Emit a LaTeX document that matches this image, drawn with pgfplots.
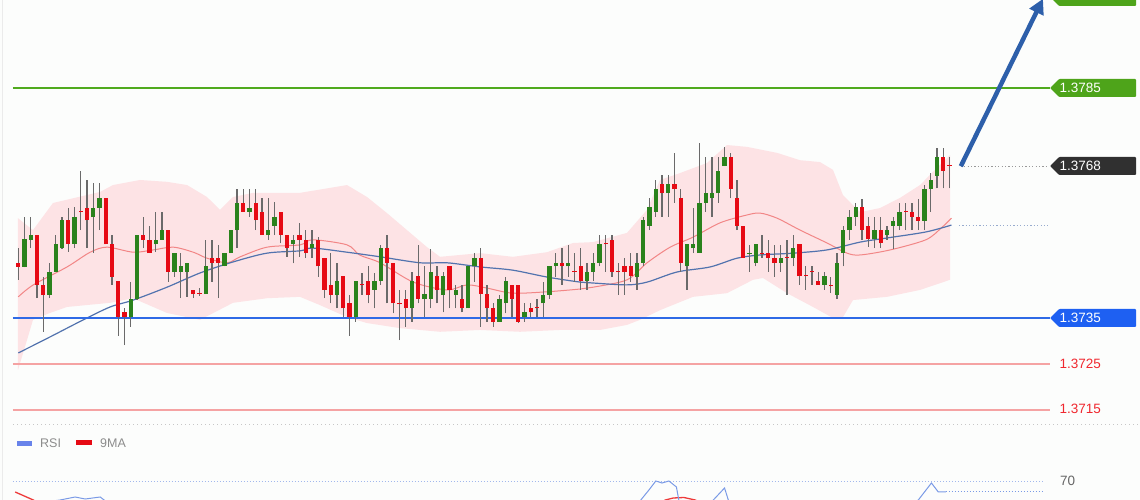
\documentclass[border=0pt]{standalone}
\usepackage{pgfplots}
\pgfplotsset{compat=1.18}
\usepackage{pgfplotstable}
\usepackage{fontspec}
\setmainfont{Liberation Sans}
\usetikzlibrary{arrows.meta}
\definecolor{bg}{HTML}{FCFDFC}
\definecolor{cgreen}{HTML}{2A821C}
\definecolor{cred}{HTML}{E60A14}
\definecolor{wick}{HTML}{6A6A6A}
\definecolor{band}{HTML}{FDE3E5}
\definecolor{maRed}{HTML}{F28686}
\definecolor{maBlue}{HTML}{5273AE}
\definecolor{lvlGreen}{HTML}{50AA1E}
\definecolor{boxGreen}{HTML}{4EA41A}
\definecolor{lvlBlue}{HTML}{2F6AE6}
\definecolor{boxBlue}{HTML}{1E60F2}
\definecolor{lvlRed}{HTML}{F5A3A3}
\definecolor{txtRed}{HTML}{F0282F}
\definecolor{boxDark}{HTML}{303030}
\definecolor{arrowBlue}{HTML}{2D5FAA}
\definecolor{rsiBlue}{HTML}{7A9AE6}
\definecolor{rsiRed}{HTML}{EE3A3A}
\definecolor{legGray}{HTML}{8C8C8C}

\pgfplotstableread{
i o h l c
1 1.37470 1.37502 1.37433 1.37461
2 1.37461 1.37570 1.37460 1.37521
3 1.37520 1.37570 1.37502 1.37530
4 1.37530 1.37530 1.37393 1.37422
5 1.37422 1.37440 1.37320 1.37400
6 1.37400 1.37469 1.37393 1.37451
7 1.37451 1.37530 1.37450 1.37510
8 1.37502 1.37570 1.37501 1.37562
9 1.37562 1.37589 1.37494 1.37511
10 1.37511 1.37591 1.37502 1.37570
11 1.37582 1.37670 1.37541 1.37580
12 1.37590 1.37650 1.37502 1.37562
13 1.37570 1.37643 1.37491 1.37590
14 1.37590 1.37643 1.37541 1.37610
15 1.37610 1.37610 1.37510 1.37510
16 1.37510 1.37530 1.37422 1.37440
17 1.37430 1.37430 1.37311 1.37352
18 1.37362 1.37371 1.37291 1.37353
19 1.37352 1.37429 1.37331 1.37391
20 1.37391 1.37530 1.37390 1.37530
21 1.37530 1.37570 1.37502 1.37520
22 1.37520 1.37549 1.37491 1.37491
23 1.37510 1.37581 1.37494 1.37520
24 1.37520 1.37581 1.37520 1.37541
25 1.37541 1.37541 1.37429 1.37451
26 1.37451 1.37491 1.37440 1.37491
27 1.37451 1.37491 1.37393 1.37462
28 1.37451 1.37470 1.37396 1.37470
29 1.37411 1.37411 1.37393 1.37402
30 1.37405 1.37415 1.37398 1.37403
31 1.37402 1.37520 1.37402 1.37462
32 1.37480 1.37520 1.37429 1.37470
33 1.37480 1.37509 1.37393 1.37470
34 1.37462 1.37491 1.37462 1.37491
35 1.37491 1.37541 1.37491 1.37541
36 1.37541 1.37630 1.37502 1.37601
37 1.37601 1.37630 1.37581 1.37581
38 1.37581 1.37630 1.37570 1.37590
39 1.37601 1.37630 1.37541 1.37562
40 1.37581 1.37610 1.37530 1.37530
41 1.37530 1.37610 1.37520 1.37541
42 1.37551 1.37603 1.37530 1.37570
43 1.37581 1.37581 1.37512 1.37530
44 1.37530 1.37530 1.37483 1.37502
45 1.37510 1.37530 1.37469 1.37520
46 1.37530 1.37556 1.37483 1.37520
47 1.37520 1.37541 1.37480 1.37491
48 1.37502 1.37541 1.37480 1.37510
49 1.37520 1.37527 1.37440 1.37462
50 1.37480 1.37480 1.37393 1.37411
51 1.37422 1.37491 1.37382 1.37400
52 1.37400 1.37469 1.37371 1.37430
53 1.37441 1.37441 1.37353 1.37371
54 1.37382 1.37400 1.37311 1.37353
55 1.37352 1.37430 1.37342 1.37430
56 1.37423 1.37447 1.37400 1.37421
57 1.37430 1.37462 1.37382 1.37400
58 1.37411 1.37447 1.37371 1.37430
59 1.37430 1.37509 1.37422 1.37502
60 1.37502 1.37530 1.37382 1.37470
61 1.37470 1.37470 1.37360 1.37382
62 1.37382 1.37411 1.37302 1.37380
63 1.37391 1.37411 1.37331 1.37371
64 1.37371 1.37451 1.37342 1.37430
65 1.37441 1.37509 1.37382 1.37391
66 1.37391 1.37462 1.37353 1.37402
67 1.37391 1.37499 1.37371 1.37451
68 1.37441 1.37462 1.37382 1.37411
69 1.37400 1.37451 1.37362 1.37441
70 1.37462 1.37462 1.37371 1.37411
71 1.37400 1.37422 1.37371 1.37411
72 1.37391 1.37422 1.37362 1.37371
73 1.37371 1.37462 1.37371 1.37462
74 1.37462 1.37491 1.37429 1.37480
75 1.37480 1.37502 1.37331 1.37402
76 1.37402 1.37422 1.37342 1.37371
77 1.37371 1.37382 1.37331 1.37342
78 1.37342 1.37400 1.37342 1.37391
79 1.37382 1.37440 1.37360 1.37430
80 1.37422 1.37422 1.37353 1.37391
81 1.37422 1.37422 1.37340 1.37342
82 1.37352 1.37382 1.37342 1.37362
83 1.37371 1.37382 1.37352 1.37362
84 1.37373 1.37391 1.37352 1.37371
85 1.37382 1.37429 1.37352 1.37400
86 1.37400 1.37462 1.37391 1.37462
87 1.37462 1.37491 1.37440 1.37470
88 1.37470 1.37502 1.37422 1.37462
89 1.37462 1.37509 1.37440 1.37470
90 1.37452 1.37491 1.37429 1.37450
91 1.37462 1.37502 1.37411 1.37430
92 1.37430 1.37469 1.37411 1.37451
93 1.37451 1.37491 1.37430 1.37470
94 1.37470 1.37530 1.37462 1.37510
95 1.37512 1.37530 1.37451 1.37510
96 1.37520 1.37530 1.37440 1.37451
97 1.37452 1.37469 1.37400 1.37450
98 1.37462 1.37480 1.37400 1.37451
99 1.37462 1.37491 1.37429 1.37441
100 1.37440 1.37491 1.37411 1.37470
101 1.37470 1.37570 1.37462 1.37562
102 1.37551 1.37610 1.37541 1.37591
103 1.37581 1.37650 1.37570 1.37630
104 1.37641 1.37661 1.37570 1.37621
105 1.37621 1.37661 1.37570 1.37641
106 1.37641 1.37709 1.37601 1.37630
107 1.37610 1.37630 1.37451 1.37470
108 1.37462 1.37510 1.37411 1.37510
109 1.37502 1.37590 1.37491 1.37510
110 1.37491 1.37730 1.37491 1.37601
111 1.37601 1.37699 1.37581 1.37621
112 1.37610 1.37699 1.37570 1.37621
113 1.37621 1.37699 1.37601 1.37670
114 1.37680 1.37721 1.37680 1.37699
115 1.37699 1.37709 1.37610 1.37630
116 1.37610 1.37650 1.37541 1.37551
117 1.37551 1.37551 1.37480 1.37481
118 1.37490 1.37509 1.37451 1.37492
119 1.37470 1.37510 1.37462 1.37510
120 1.37492 1.37530 1.37480 1.37490
121 1.37491 1.37520 1.37451 1.37480
122 1.37480 1.37509 1.37440 1.37470
123 1.37470 1.37509 1.37451 1.37480
124 1.37483 1.37520 1.37400 1.37481
125 1.37480 1.37530 1.37462 1.37502
126 1.37510 1.37510 1.37422 1.37441
127 1.37443 1.37462 1.37411 1.37441
128 1.37452 1.37462 1.37422 1.37450
129 1.37430 1.37451 1.37422 1.37422
130 1.37422 1.37451 1.37411 1.37441
131 1.37422 1.37440 1.37404 1.37420
132 1.37400 1.37491 1.37391 1.37470
133 1.37491 1.37551 1.37462 1.37541
134 1.37541 1.37585 1.37520 1.37570
135 1.37570 1.37601 1.37551 1.37591
136 1.37591 1.37608 1.37520 1.37541
137 1.37550 1.37570 1.37505 1.37521
138 1.37521 1.37570 1.37502 1.37541
139 1.37541 1.37570 1.37502 1.37512
140 1.37530 1.37550 1.37520 1.37541
141 1.37550 1.37570 1.37499 1.37561
142 1.37550 1.37599 1.37541 1.37581
143 1.37583 1.37599 1.37541 1.37581
144 1.37581 1.37599 1.37541 1.37570
145 1.37570 1.37608 1.37541 1.37561
146 1.37561 1.37639 1.37541 1.37630
147 1.37630 1.37665 1.37581 1.37650
148 1.37659 1.37720 1.37632 1.37701
149 1.37701 1.37720 1.37632 1.37670
150 1.37683 1.37701 1.37632 1.37681
}\candles

\begin{document}
\begin{tikzpicture}
\useasboundingbox (0,0) rectangle (1140pt,500pt);
\fill[bg] (0,0) rectangle (1140pt,500pt);

% ---------- price panel ----------
\begin{axis}[at={(0,0)}, anchor=south west, scale only axis,
  width=1140pt, height=500pt,
  xmin=-1.928, xmax=180.472, ymin=1.3695435, ymax=1.380413,
  hide axis, clip=true]

% Bollinger band
\addplot[fill=band, draw=none] coordinates {
(0.95,1.37567) (3.35,1.37541) (6.55,1.37600) (14.07,1.37624) (16.15,1.37639)
(20.47,1.37650) (24.79,1.37646) (28.0,1.37639) (31.19,1.37613) (33.27,1.37585)
(35.35,1.37613) (38.55,1.37622) (46.07,1.37622) (53.59,1.37639) (56.79,1.37613)
(59.99,1.37578) (63.19,1.37541) (66.39,1.37504) (68.47,1.37483) (74.87,1.37491)
(80.15,1.37483) (85.59,1.37493) (89.75,1.37513) (92.95,1.37515) (98.39,1.37535)
(101.59,1.37585) (103.67,1.37650) (106.87,1.37665) (111.19,1.37687) (114.39,1.37726)
(117.59,1.37722) (122.39,1.37709) (126.07,1.37693) (129.27,1.37689) (131.35,1.37672)
(132.95,1.37617) (135.67,1.37580) (138.87,1.37589) (142.07,1.37611) (145.27,1.37639)
(147.67,1.37672) (150.07,1.37704)
(150.07,1.37433) (145.27,1.37411) (139.99,1.37396) (134.55,1.37389) (132.95,1.37352)
(131.35,1.37350) (128.15,1.37374) (123.99,1.37404) (120.15,1.37437) (118.55,1.37433)
(114.39,1.37404) (108.95,1.37396) (103.67,1.37367) (100.47,1.37346) (98.39,1.37335)
(94.07,1.37324) (87.67,1.37324) (81.27,1.37320) (74.87,1.37324) (68.47,1.37320)
(62.07,1.37328) (56.79,1.37339) (53.59,1.37352) (49.27,1.37378) (46.07,1.37396)
(40.79,1.37393) (35.35,1.37383) (30.07,1.37346) (24.79,1.37361) (19.35,1.37393)
(15.67,1.37383) (8.79,1.37374) (6.07,1.37361) (3.35,1.37346) (2.39,1.37302)
(0.95,1.37237)
};

% moving averages
\addplot[draw=maRed, line width=1pt, smooth] coordinates {
(1,1.37396) (3.4,1.37422) (8.8,1.37461) (12.5,1.37493) (15.2,1.37504) (19.4,1.37493)
(22.6,1.37498) (25.8,1.37504) (29.0,1.37493) (31.2,1.37480) (34.4,1.37470) (36.5,1.37483)
(40.8,1.37504) (46.1,1.37509) (48.1,1.37520) (53.6,1.37509) (55.6,1.37487) (58.9,1.37470)
(64.2,1.37428) (69.6,1.37411) (72.8,1.37422) (76.0,1.37415) (80.1,1.37404) (85.6,1.37407)
(90.9,1.37413) (93.0,1.37417) (98.4,1.37433) (101.6,1.37470) (105.3,1.37504) (109.0,1.37526)
(113.3,1.37557) (117.6,1.37574) (119.7,1.37578) (122.4,1.37567) (126.1,1.37541) (130.4,1.37513)
(133.6,1.37491) (135.7,1.37487) (140.5,1.37498) (146.2,1.37520) (148.7,1.37546) (150.3,1.37567)
};
\addplot[draw=maBlue, line width=1.2pt, smooth] coordinates {
(1,1.37274) (6.1,1.37309) (11.4,1.37346) (15.7,1.37374) (19.4,1.37389) (24.8,1.37417)
(30.1,1.37448) (35.4,1.37472) (40.8,1.37491) (46.1,1.37496) (48.1,1.37502) (53.6,1.37493)
(58.9,1.37483) (65.3,1.37470) (69.6,1.37470) (74.9,1.37461) (80.1,1.37454) (85.6,1.37439)
(90.9,1.37428) (93,1.37426) (98.4,1.37422) (101.6,1.37428) (106.4,1.37450) (111.7,1.37461)
(116.0,1.37480) (119.7,1.37487) (125.0,1.37491) (130.4,1.37498) (135.7,1.37515) (140.0,1.37524)
(146.2,1.37537) (150.3,1.37552)
};

% level lines
\addplot[draw=lvlGreen, line width=2pt] coordinates {(0.15,1.3785) (166.07,1.3785)};
\addplot[draw=lvlBlue, line width=1.5pt] coordinates {(0.15,1.3735) (166.07,1.3735)};
\addplot[draw=lvlRed, line width=1.5pt] coordinates {(0.15,1.3725) (166.07,1.3725)};
\addplot[draw=lvlRed, line width=1.5pt] coordinates {(0.15,1.3715) (166.07,1.3715)};
\addplot[draw=gray!80, line width=0.9pt, dash pattern=on 1.2pt off 2.2pt] coordinates {(151.8,1.3768) (165.7,1.3768)};
\addplot[draw=maBlue!60, line width=0.9pt, dash pattern=on 1.2pt off 2.2pt] coordinates {(151.5,1.37552) (165.7,1.37552)};

% candles: wicks
\addplot[draw=none, mark=none,
  error bars/.cd, y dir=plus, y explicit, error mark=none,
  error bar style={line width=1.3pt, draw=wick}]
  table[x=i, y=l, y error expr={\thisrow{h}-\thisrow{l}}] {\candles};
% bodies up
\addplot[draw=none, mark=none,
  error bars/.cd, y dir=plus, y explicit, error mark=none,
  error bar style={line width=4.3pt, draw=cgreen}]
  table[x=i, y expr={\thisrow{c}>=\thisrow{o} ? \thisrow{o} : nan},
        y error expr={\thisrow{c}-\thisrow{o}}] {\candles};
% bodies down
\addplot[draw=none, mark=none,
  error bars/.cd, y dir=plus, y explicit, error mark=none,
  error bar style={line width=4.3pt, draw=cred}]
  table[x=i, y expr={\thisrow{c}<\thisrow{o} ? \thisrow{c} : nan},
        y error expr={\thisrow{o}-\thisrow{c}}] {\candles};

% arrow
\addplot[draw=arrowBlue, line width=4.5pt, -{Triangle[length=15pt,width=15pt]}]
  coordinates {(151.8,1.37680) (164.95,1.38044)};
\end{axis}

% ---------- RSI panel ----------
\begin{axis}[at={(0,0)}, anchor=south west, scale only axis,
  width=1140pt, height=500pt,
  xmin=-1.928, xmax=180.472, ymin=62.4, ymax=262.4,
  hide axis, clip=true]
\addplot[draw=rsiBlue!70, line width=0.9pt, dash pattern=on 1pt off 2pt] coordinates {(0.15,70) (165.2,70)};
\addplot[draw=rsiRed, line width=1.3pt] coordinates {
(0.5,65.6) (3.4,62.4) (6,59) (15,58) (30,50) (60,44) (90,44) (100,52) (103,59)
(104.5,62.4) (105.8,63.2) (107.5,63.4) (109.3,62.4) (111,60) (120,56) (140,52) (149.4,60)
};
\addplot[draw=rsiBlue, line width=1pt] coordinates {
(0.5,58) (3,60) (5,61.5) (7.7,62.4) (10.1,63.6) (11.7,62.8) (14.1,63.6) (16,60) (20,52)
(30,48) (40,50) (50,45) (60,40) (70,42) (80,40) (90,46) (97,55) (100.6,62.4) (101.9,66.4)
(103.0,70.0) (104.0,69.2) (105.1,70.0) (106.3,67.6) (107,58) (109,56) (110.5,59) (112.2,62.4)
(114.0,67.2) (114.6,62.4) (116,55) (120,48) (126,50) (132,46) (138,54) (142,58) (145,62.4)
(147.1,69.2) (148.2,65.6) (149.4,65.6)
};
\addplot[draw=rsiBlue, line width=1pt, dash pattern=on 1pt off 2pt] coordinates {(149.4,65.6) (164.8,65.6)};
\end{axis}

% ---------- annotations in pixel coordinates ----------
\begin{scope}[x=1pt, y=-1pt, yshift=500pt]
\clip (0,0) rectangle (1140,500);
\draw[color=black!8, line width=1pt] (2.7,0) -- (2.7,500);
\draw[color=black!22, line width=0.8pt, dash pattern=on 1pt off 3pt] (13,424) -- (1140,424);
% label boxes
\fill[boxGreen, rounded corners=1pt] (1050,-3) -- (1059,-12) -- (1136,-12) -- (1136,6) -- (1059,6) -- cycle;
\fill[boxGreen, rounded corners=1pt] (1050,88) -- (1059,79) -- (1136,79) -- (1136,97) -- (1059,97) -- cycle;
\fill[boxDark, rounded corners=1pt] (1050,166) -- (1059,157) -- (1136,157) -- (1136,175) -- (1059,175) -- cycle;
\fill[boxBlue, rounded corners=1pt] (1050,318) -- (1059,309) -- (1136,309) -- (1136,327) -- (1059,327) -- cycle;
\begin{scope}[every node/.style={anchor=west, inner sep=0pt, font=\fontsize{13.5}{16}\selectfont}]
\node[text=white] at (1059.5,88) {1.3785};
\node[text=white] at (1059.5,166) {1.3768};
\node[text=white] at (1059.5,318) {1.3735};
\node[text=txtRed] at (1059.5,364) {1.3725};
\node[text=txtRed] at (1059.5,409) {1.3715};
\node[text=black!60] at (1060,481) {70};
\end{scope}
% legend
\fill[rsiBlue!85!blue] (17,441) rectangle (32,446);
\fill[cred] (76,440.5) rectangle (92,445.5);
\node[anchor=west, inner sep=0pt, text=legGray, font=\fontsize{12.5}{15}\selectfont] at (40,443) {RSI};
\node[anchor=west, inner sep=0pt, text=legGray, font=\fontsize{12.5}{15}\selectfont] at (100,443) {9MA};
\end{scope}
\end{tikzpicture}
\end{document}
